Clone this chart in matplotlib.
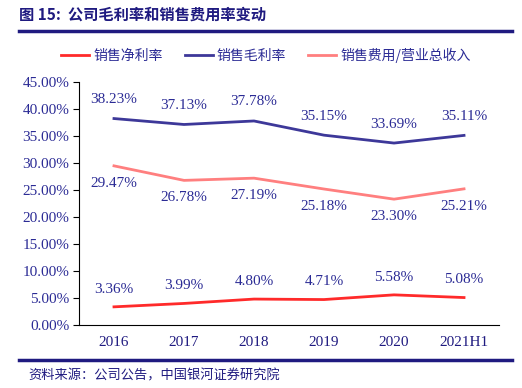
import matplotlib.pyplot as plt
from matplotlib.lines import Line2D

# 数据
years = ['2016', '2017', '2018', '2019', '2020', '2021H1']
net_rate = [3.36, 3.99, 4.80, 4.71, 5.58, 5.08]
gross_rate = [38.23, 37.13, 37.78, 35.15, 33.69, 35.11]
expense_rate = [29.47, 26.78, 27.19, 25.18, 23.30, 25.21]

navy = '#1f1a80'
txt = '#2b2b95'
cjk = ['Noto Sans CJK SC', 'DejaVu Sans']
serif = ['Liberation Serif', 'Noto Sans CJK SC']

fig = plt.figure(figsize=(5.22, 3.88), dpi=100)
ax = fig.add_axes([0.1513, 0.1624, 0.8047, 0.6263])

x = range(len(years))
ax.plot(x, net_rate, color='#ff2a2a', lw=2, label='销售净利率')
ax.plot(x, gross_rate, color='#3d3899', lw=2, label='销售毛利率')
ax.plot(x, expense_rate, color='#ff7f7f', lw=2, label='销售费用/营业总收入')

for i in x:
    ax.annotate(f'{net_rate[i]:.2f}%', (i, net_rate[i]), xytext=(0, 8), textcoords='offset points',
                ha='center', va='bottom', color=txt, fontsize=11, family=serif)
    ax.annotate(f'{gross_rate[i]:.2f}%', (i, gross_rate[i]), xytext=(0, 9), textcoords='offset points',
                ha='center', va='bottom', color=txt, fontsize=11, family=serif)
    ax.annotate(f'{expense_rate[i]:.2f}%', (i, expense_rate[i]), xytext=(0, -8), textcoords='offset points',
                ha='center', va='top', color=txt, fontsize=11, family=serif)

ax.set_xlim(-0.5, len(years) - 0.5)
ax.set_ylim(0, 45)
ax.set_yticks(range(0, 46, 5))
ax.set_yticklabels([f'{v:.2f}%' for v in range(0, 46, 5)], family=serif, fontsize=11, color=txt)
ax.set_xticks(list(x))
ax.set_xticklabels(years, family=serif, fontsize=11, color=navy)
ax.tick_params(axis='x', length=0, pad=8)
ax.tick_params(axis='y', length=4, direction='out', pad=3)
for s in ['top', 'right']:
    ax.spines[s].set_visible(False)
ax.spines['left'].set_color('black')
ax.spines['bottom'].set_color('black')

handles, labels = ax.get_legend_handles_labels()
fig.legend(handles, labels, loc='center', bbox_to_anchor=(266 / 522, 1 - 55 / 388), ncol=3, frameon=False,
           prop={'family': cjk, 'size': 10}, labelcolor=txt, handlelength=2.0, columnspacing=1.6,
           handletextpad=0.3)

fig.text(19 / 522, 1 - 15 / 388, '图 15:  公司毛利率和销售费用率变动', color=navy, fontsize=11,
         fontweight='bold', family=cjk, va='center', ha='left')
fig.add_artist(Line2D([19 / 522, 512 / 522], [1 - 31 / 388] * 2, color=navy, lw=2.5))
fig.add_artist(Line2D([19 / 522, 512 / 522], [1 - 360 / 388] * 2, color=navy, lw=2.5))
fig.text(28 / 522, 1 - 376 / 388, '资料来源：公司公告，中国银河证券研究院', color=navy, fontsize=9.5,
         style='italic', family=cjk, va='center', ha='left')

fig.savefig('out.png', dpi=100)
